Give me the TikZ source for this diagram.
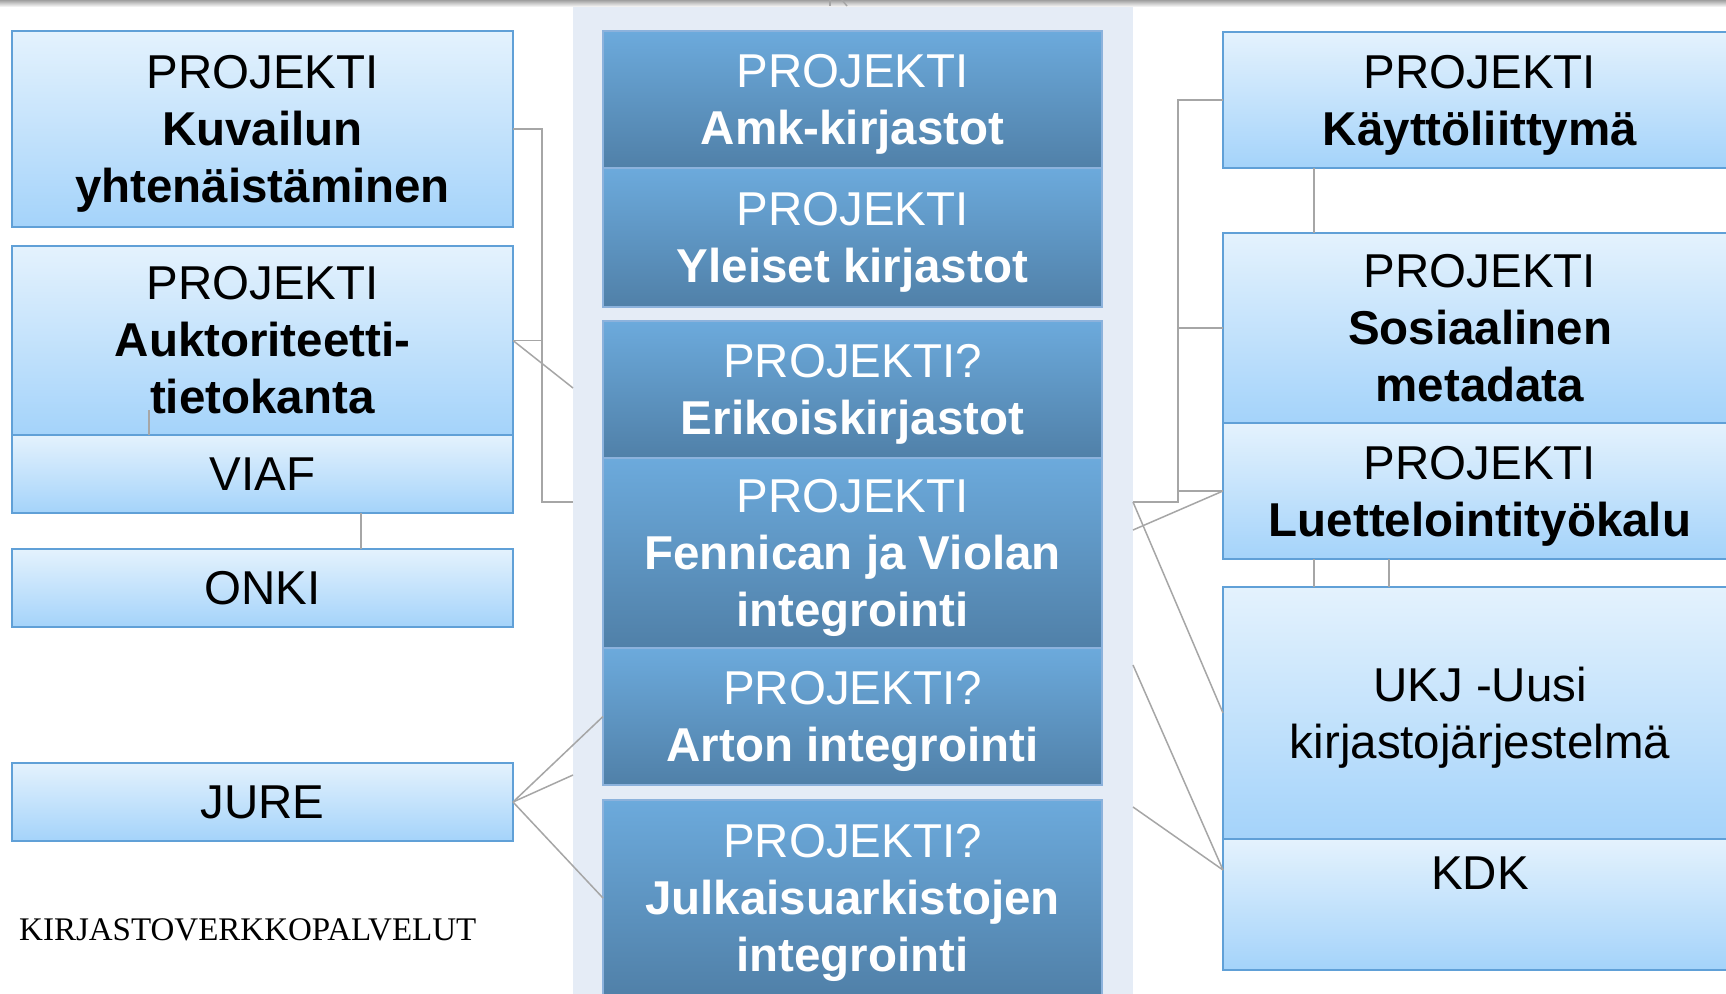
\documentclass[tikz,border=0pt]{standalone}
\usepackage{amsmath}
\usepackage{fontspec}
\setmainfont{Liberation Sans}
\newfontfamily\timesfont{Liberation Serif}
\definecolor{ltop}{RGB}{228,242,253}
\definecolor{lbot}{RGB}{164,211,250}
\definecolor{lline}{RGB}{96,160,215}
\definecolor{ctop}{RGB}{108,170,220}
\definecolor{cbot}{RGB}{80,128,168}
\definecolor{cline}{RGB}{140,178,220}
\definecolor{bgc}{RGB}{229,236,246}
\definecolor{linec}{RGB}{166,166,166}
\newcommand{\lastl}[1]{\smash[b]{#1}}
\begin{document}
\begin{tikzpicture}[x=1pt,y=-1pt,
  base/.style={rectangle, inner sep=0pt, outer sep=0pt, align=center,
    font=\fontsize{47.5}{57}\selectfont, line width=1.5pt},
  lbox/.style={base, draw=lline, top color=ltop, bottom color=lbot, minimum width=501pt},
  cbox/.style={base, draw=cline, top color=ctop, bottom color=cbot, text=white, minimum width=499pt},
  rbox/.style={base, draw=lline, top color=ltop, bottom color=lbot, minimum width=514pt},
  clink/.style={draw=linec, line width=1.5pt}]
\useasboundingbox (0,0) rectangle (1726,993);
\clip (0,0) rectangle (1726,993);
\fill[white] (0,0) rectangle (1726,993);
\shade[top color=gray!75, bottom color=gray!12] (0,0) rectangle (1726,6);
\fill[bgc] (573,7) rectangle (1133,1000);

% left column
\node[lbox, minimum height=196pt] (kuv) at (262.5,129) {PROJEKTI\\\textbf{Kuvailun}\\\lastl{\textbf{yhtenäistäminen}}};
\node[lbox, minimum height=189pt] (auk) at (262.5,340.5) {PROJEKTI\\\textbf{Auktoriteetti-}\\\textbf{tietokanta}};
\node[lbox, minimum height=78pt] (viaf) at (262.5,474) {VIAF};
\node[lbox, minimum height=78pt] (onki) at (262.5,588) {ONKI};
\node[lbox, minimum height=78pt] (jure) at (262.5,802) {JURE};
\node[anchor=base west, inner sep=0pt, font=\timesfont\fontsize{33}{40}\selectfont] (kvp) at (19,940) {KIRJASTOVERKKOPALVELUT};

% centre column
\node[cbox, minimum height=137pt] (amk) at (852.5,99.5) {PROJEKTI\\\lastl{\textbf{Amk-kirjastot}}};
\node[cbox, minimum height=139pt] (yle) at (852.5,237.5) {PROJEKTI\\\lastl{\textbf{Yleiset kirjastot}}};
\node[cbox, minimum height=137pt] (eri) at (852.5,389.5) {PROJEKTI?\\\lastl{\textbf{Erikoiskirjastot}}};
\node[cbox, minimum height=190pt] (fen) at (852.5,553) {PROJEKTI\\\textbf{Fennican ja Violan}\\\lastl{\textbf{integrointi}}};
\node[cbox, minimum height=137pt] (art) at (852.5,716.5) {PROJEKTI?\\\lastl{\textbf{Arton integrointi}}};
\node[cbox, minimum height=196pt] (jul) at (852.5,898) {PROJEKTI?\\\textbf{Julkaisuarkistojen}\\\lastl{\textbf{integrointi}}};

% right column
\node[rbox, minimum height=136pt] (kay) at (1480,100) {PROJEKTI\\\lastl{\textbf{Käyttöliittymä}}};
\node[rbox, minimum height=190pt] (sos) at (1480,328) {PROJEKTI\\\textbf{Sosiaalinen}\\\textbf{metadata}};
\node[rbox, minimum height=136pt] (lue) at (1480,491) {PROJEKTI\\\lastl{\textbf{Luettelointityökalu}}};
\node[rbox, minimum height=252pt] (ukj) at (1480,713) {UKJ -Uusi\\\lastl{kirjastojärjestelmä}};
\node[rbox, minimum height=131pt] (kdk) at (1480,904.5) {};
\node[anchor=base, inner sep=0pt, font=\fontsize{47.5}{57}\selectfont] (kdkt) at ([yshift=-50pt]kdk.north) {KDK};

% coordinates
\coordinate (lbr) at (542,502);
\coordinate (lbg) at (573,502);
\coordinate (lbd) at (573,388);
\coordinate (jbg) at (573,775);
\coordinate (rbt) at (1178,100);
\coordinate (rbb) at (1178,502);
\coordinate (rbg) at (1133,502);
\coordinate (rd1) at (1133,530);
\coordinate (rd2) at (1133,665);
\coordinate (rd3) at (1133,807);
\coordinate (tp1) at (830,0);
\coordinate (tp2) at (830,6);
\coordinate (tp3) at (842,0);
\coordinate (tp4) at (847,6);
\coordinate (ak1) at (149,410);

% left connectors
\draw[clink] (kuv.east) -| (lbr) -- (lbg);
\draw[clink] (auk.east) -- (auk.east -| lbr);
\draw[clink] (auk.east) -- (lbd);
\draw[clink] (ak1) -- (ak1 |- auk.south);
\draw[clink] ([xshift=98.5pt]viaf.south) -- ([xshift=98.5pt]onki.north);
\draw[clink] (jure.east) -- (art.west);
\draw[clink] (jure.east) -- (jbg);
\draw[clink] (jure.east) -- (jul.west);

% right connectors
\draw[clink] ([xshift=-166pt]kay.south) -- ([xshift=-166pt]sos.north);
\draw[clink] (kay.west) -- (rbt) -- (rbb) -- (rbg);
\draw[clink] (sos.west) -- (sos.west -| rbt);
\draw[clink] (lue.west -| rbt) -- (lue.west);
\draw[clink] (rd1) -- (lue.west);
\draw[clink] (rbg) -- (ukj.west);
\draw[clink] (rd2) -- ([yshift=34.5pt]kdk.west);
\draw[clink] (rd3) -- ([yshift=34.5pt]kdk.west);
\draw[clink] ([xshift=-166pt]lue.south) -- ([xshift=-166pt]ukj.north);
\draw[clink] ([xshift=-91pt]lue.south) -- ([xshift=-91pt]ukj.north);

% fragments at the top
\draw[clink] (tp1) -- (tp2);
\draw[clink] (tp3) -- (tp4);
\end{tikzpicture}
\end{document}
